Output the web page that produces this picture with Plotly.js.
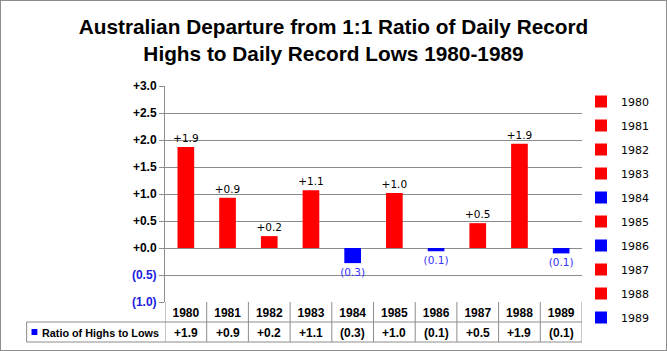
<!DOCTYPE html>
<html>
<head>
<meta charset="utf-8">
<script src="https://cdn.plot.ly/plotly-3.0.1.min.js"></script>
<style>
  html, body { margin: 0; padding: 0; background: #fff; }
  #wrap { width: 667px; height: 351px; box-sizing: border-box; border: 1px solid #8c8c8c; }
  #chart { width: 665px; height: 349px; }
</style>
</head>
<body>
<div id="wrap"><div id="chart"></div></div>
<script>
// ---- data ----
const years = ['1980','1981','1982','1983','1984','1985','1986','1987','1988','1989'];
const ratio = [1.87, 0.93, 0.22, 1.07, -0.28, 1.02, -0.06, 0.46, 1.93, -0.10];
const yTicks = [-1.0, -0.5, 0.0, 0.5, 1.0, 1.5, 2.0, 2.5, 3.0];
const seriesName = 'Ratio of Highs to Lows';
const titleText = 'Australian Departure from 1:1 Ratio of Daily Record<br>Highs to Daily Record Lows 1980-1989';

// ---- helpers ----
const RED = '#ff0000', BLUE = '#0000ff', GRID = '#8c8c8c';
function fmt(v) {
  return v >= 0 ? '+' + v.toFixed(1) : '(' + Math.abs(v).toFixed(1) + ')';
}
const W = 665, H = 349;
const M = { l: 164, r: 73, t: 85, b: 48 };
const PW = W - M.l - M.r, PH = H - M.t - M.b;
const px2x = p => (p - 1 - M.l) / PW;      // page px -> paper x
const px2y = p => (M.t + PH - (p - 1)) / PH; // page px -> paper y

const CAL = '"Liberation Sans", Arial, sans-serif';
const TAH = '"DejaVu Sans", Verdana, sans-serif';

const traces = years.map((yr, i) => {
  const v = ratio[i];
  const c = v >= 0 ? RED : BLUE;
  return {
    type: 'bar',
    x: [yr], y: [v],
    name: yr,
    legendgroup: yr,
    width: 0.4,
    marker: { color: c },
    text: [fmt(v)],
    textposition: 'outside',
    constraintext: 'none',
    textfont: { family: TAH, size: 10.5, color: v >= 0 ? '#000' : '#3333ff' },
    cliponaxis: false,
    hoverinfo: 'x+y'
  };
});

const rowTop = px2y(322), rowBot = px2y(342);
const shapes = [];
// vertical dividers of the data table
for (let i = 0; i <= years.length; i++) {
  shapes.push({ type: 'line', xref: 'x', yref: 'paper', x0: i - 0.5, x1: i - 0.5, y0: 0, y1: rowBot,
    line: { color: GRID, width: 1 } });
}
// horizontal lines
shapes.push({ type: 'line', xref: 'paper', yref: 'paper', x0: px2x(23), x1: 1, y0: rowTop, y1: rowTop, line: { color: GRID, width: 1 } });
shapes.push({ type: 'line', xref: 'paper', yref: 'paper', x0: px2x(23), x1: 1, y0: rowBot, y1: rowBot, line: { color: GRID, width: 1 } });
shapes.push({ type: 'line', xref: 'paper', yref: 'paper', x0: px2x(23), x1: px2x(23), y0: rowTop, y1: rowBot, line: { color: GRID, width: 1 } });
// legend key square in table
shapes.push({ type: 'rect', xref: 'paper', yref: 'paper', x0: px2x(28), x1: px2x(34), y0: px2y(329), y1: px2y(335),
  fillcolor: BLUE, line: { width: 0 } });

const annotations = [];
const rowMid = px2y(332.5);
years.forEach((yr, i) => {
  annotations.push({ xref: 'x', yref: 'paper', x: i, y: rowMid, text: '<b>' + fmt(ratio[i]) + '</b>',
    showarrow: false, font: { family: CAL, size: 12, color: '#000' }, xanchor: 'center', yanchor: 'middle' });
});
annotations.push({ xref: 'paper', yref: 'paper', x: px2x(37), y: rowMid, text: '<b>' + seriesName + '</b>',
  showarrow: false, font: { family: CAL, size: 10.8, color: '#000' }, xanchor: 'left', yanchor: 'middle' });

const layout = {
  width: W, height: H,
  margin: M,
  paper_bgcolor: '#fff', plot_bgcolor: '#fff',
  barmode: 'overlay',
  title: { text: '<b>' + titleText + '</b>', font: { family: CAL, size: 20.8, color: '#000' },
    x: 0.5, xref: 'container', xanchor: 'center', yref: 'container', y: 0.905, yanchor: 'top' },
  xaxis: {
    type: 'category', range: [-0.5, 9.5], showgrid: false, zeroline: false, showline: false,
    ticks: '', tickfont: { family: CAL, size: 12, color: '#000', weight: 'bold' }, ticklabelstandoff: 2, fixedrange: true
  },
  yaxis: {
    range: [-1, 3], tickvals: yTicks,
    ticktext: yTicks.map(v => v < 0 ? '<span style="color:#2020e0">' + fmt(v) + '</span>' : fmt(v)),
    tickfont: { family: CAL, size: 12, color: '#000', weight: 'bold' },
    showgrid: true, gridcolor: GRID, gridwidth: 1, zeroline: false,
    showline: true, linecolor: GRID, ticks: 'outside', ticklen: 5, tickcolor: GRID, fixedrange: true
  },
  showlegend: true,
  legend: { x: px2x(592), xanchor: 'left', y: px2y(87), yanchor: 'top', tracegroupgap: 5, maxheight: 320,
    font: { family: TAH, size: 11, color: '#000' }, bgcolor: 'rgba(0,0,0,0)' },
  shapes: shapes,
  annotations: annotations
};

Plotly.newPlot('chart', traces, layout, { displayModeBar: false, staticPlot: true });
</script>
</body>
</html>
